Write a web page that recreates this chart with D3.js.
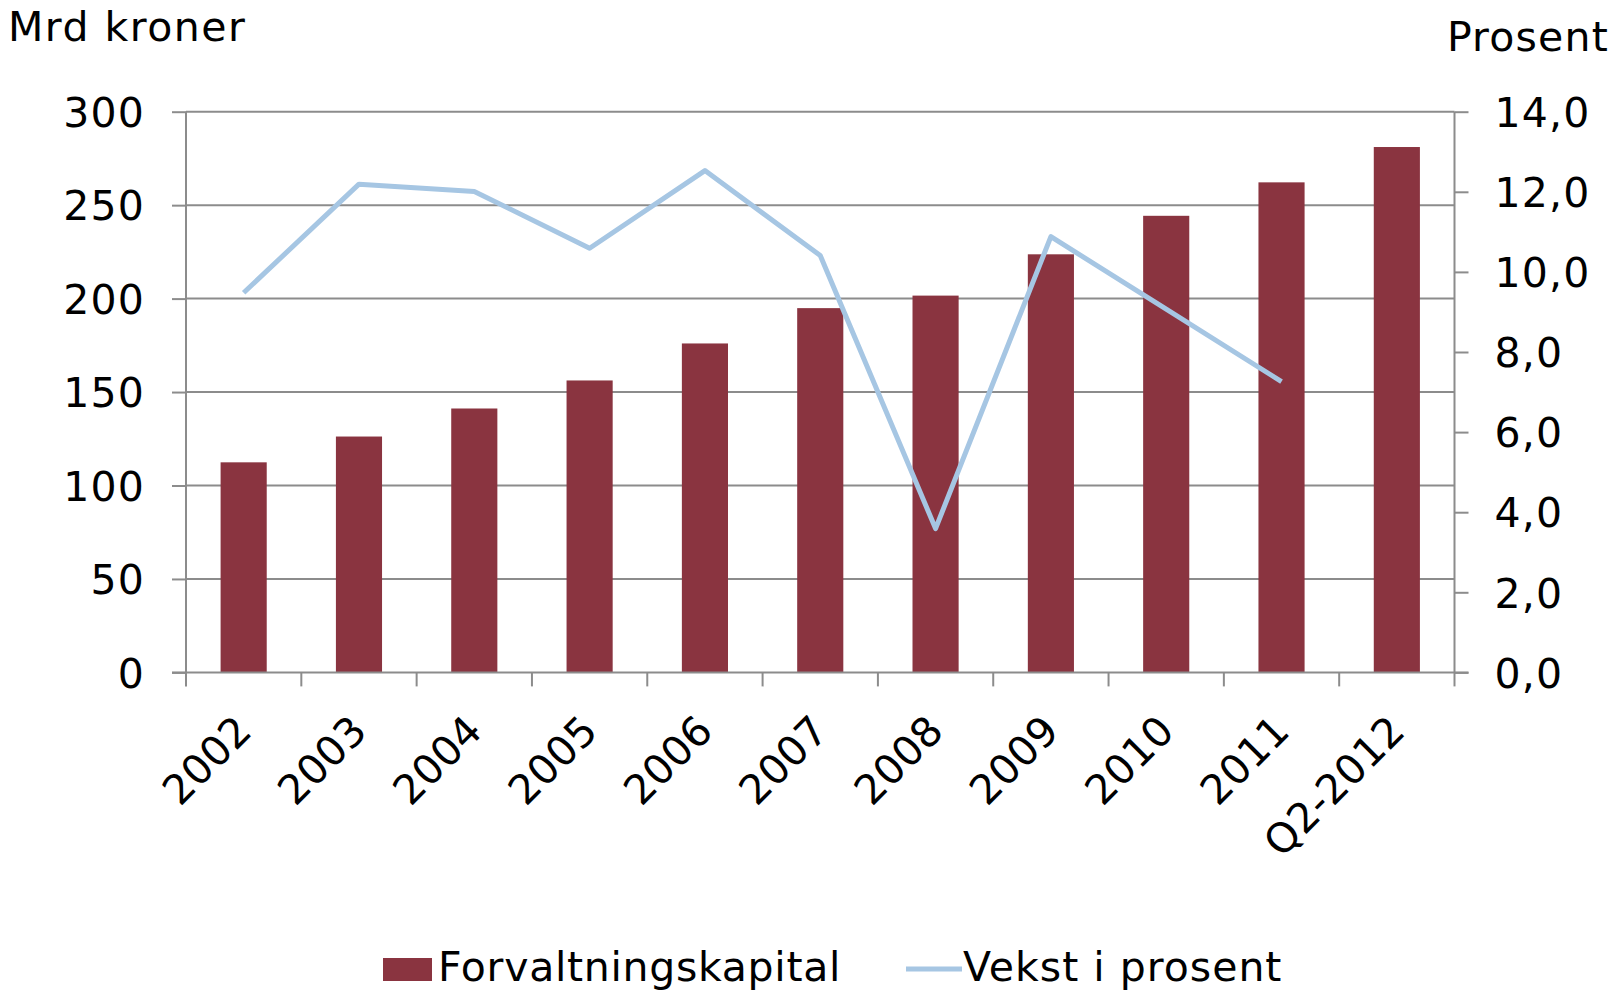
<html>
<head>
  <style>
    body { margin: 0; background: #fff; }
    svg text { font-family: "DejaVu Sans", Verdana, sans-serif; font-size: 41px; fill: #000; }
    svg .grid { stroke: #8c8c8c; stroke-width: 2px; }
    svg .axis path, svg .axis line { stroke: #8c8c8c; stroke-width: 2px; }
    svg .axis .tick text { letter-spacing: 1.2px; }
    svg .bar { fill: #8a3440; }
    svg .growth { fill: none; stroke: #a6c6e3; stroke-width: 5px; stroke-linejoin: round; }
  </style>
</head>
<body>
  <div id="chart"></div>
  <script src="https://d3js.org/d3.v7.min.js"></script>
  <script>
    // data
    var categories = ["2002", "2003", "2004", "2005", "2006", "2007", "2008", "2009", "2010", "2011", "Q2-2012"];
    var kapital = [112.4, 126.2, 141.2, 156.2, 176.0, 194.9, 201.6, 223.7, 244.3, 262.2, 281.1];
    var vekst = [9.48, 12.19, 12.01, 10.59, 12.53, 10.41, 3.59, 10.88, 9.07, 7.26, null];
    var leftTicks = [0, 50, 100, 150, 200, 250, 300];
    var rightTicks = [0, 2, 4, 6, 8, 10, 12, 14];

    var W = 1622, H = 992;
    var plot = { left: 186, right: 1454.5, top: 111.7, bottom: 672.4 };
    var tickLen = 14;

    var svg = d3.select("#chart").append("svg")
      .attr("width", W)
      .attr("height", H);

    var x = d3.scaleBand()
      .domain(categories)
      .range([plot.left, plot.right])
      .paddingInner(0.6)
      .paddingOuter(0.3);

    var yL = d3.scaleLinear().domain([0, 300]).range([plot.bottom, plot.top]);
    var yR = d3.scaleLinear().domain([0, 14]).range([plot.bottom, plot.top]);

    // horizontal grid
    svg.append("g").selectAll("line")
      .data(leftTicks.filter(function (d) { return d > 0; }))
      .join("line")
        .classed("grid", true)
        .attr("x1", plot.left).attr("x2", plot.right)
        .attr("y1", function (d) { return yL(d); })
        .attr("y2", function (d) { return yL(d); });

    // bars
    svg.append("g").selectAll("rect")
      .data(kapital)
      .join("rect")
        .classed("bar", true)
        .attr("x", function (d, i) { return x(categories[i]); })
        .attr("width", x.bandwidth())
        .attr("y", function (d) { return yL(d); })
        .attr("height", function (d) { return yL(0) - yL(d); });

    // left axis
    var gl = svg.append("g")
      .classed("axis", true)
      .attr("transform", "translate(" + plot.left + ",0)")
      .call(d3.axisLeft(yL).tickValues(leftTicks).tickSize(tickLen).tickSizeOuter(0).tickPadding(27));
    gl.select(".domain").attr("d", "M0," + plot.top + "V" + plot.bottom);
    gl.selectAll(".tick text").style("font-size", "41px").attr("dy", "0.36em");

    // right axis
    var gr = svg.append("g")
      .classed("axis", true)
      .attr("transform", "translate(" + plot.right + ",0)")
      .call(d3.axisRight(yR).tickValues(rightTicks).tickSize(tickLen).tickSizeOuter(0).tickPadding(26)
        .tickFormat(function (d) { return d3.format(".1f")(d).replace(".", ","); }));
    gr.select(".domain").attr("d", "M0," + plot.top + "V" + plot.bottom);
    gr.selectAll(".tick text").style("font-size", "41px").attr("dy", "0.36em");

    // bottom axis: ticks between categories
    var bounds = categories.map(function (c) { return x(c) - x.step() * 0.3; });
    bounds.push(plot.right);
    var gb = svg.append("g").classed("axis", true);
    gb.append("line")
      .attr("x1", plot.left - tickLen).attr("x2", plot.right + tickLen)
      .attr("y1", plot.bottom).attr("y2", plot.bottom);
    gb.selectAll("line.t")
      .data(bounds)
      .join("line")
        .attr("class", "t")
        .attr("x1", function (d) { return d; }).attr("x2", function (d) { return d; })
        .attr("y1", plot.bottom).attr("y2", plot.bottom + tickLen);

    gb.selectAll("text")
      .data(categories)
      .join("text")
        .attr("text-anchor", "end")
        .attr("transform", function (d) {
          return "translate(" + (x(d) + x.bandwidth() / 2 + 10) + "," + (plot.bottom + 61) + ") rotate(-45)";
        })
        .text(function (d) { return d; });

    // growth line
    var line = d3.line()
      .defined(function (d) { return d != null; })
      .x(function (d, i) { return x(categories[i]) + x.bandwidth() / 2; })
      .y(function (d) { return yR(d); });

    svg.append("path")
      .classed("growth", true)
      .attr("d", line(vekst));

    // axis titles
    svg.append("text").attr("x", 8).attr("y", 41)
      .style("letter-spacing", "1.5px").text("Mrd kroner");
    svg.append("text").attr("x", 1609).attr("y", 51).attr("text-anchor", "end")
      .style("letter-spacing", "1.2px").text("Prosent");

    // legend
    var lg = svg.append("g");
    lg.append("rect").classed("bar", true)
      .attr("x", 383).attr("y", 958).attr("width", 49).attr("height", 23);
    lg.append("text").attr("x", 438).attr("y", 981)
      .style("letter-spacing", "0.7px").text("Forvaltningskapital");
    lg.append("line").classed("growth", true)
      .attr("x1", 906).attr("x2", 962).attr("y1", 969).attr("y2", 969);
    lg.append("text").attr("x", 963).attr("y", 981)
      .style("letter-spacing", "1px").text("Vekst i prosent");
  </script>
</body>
</html>
